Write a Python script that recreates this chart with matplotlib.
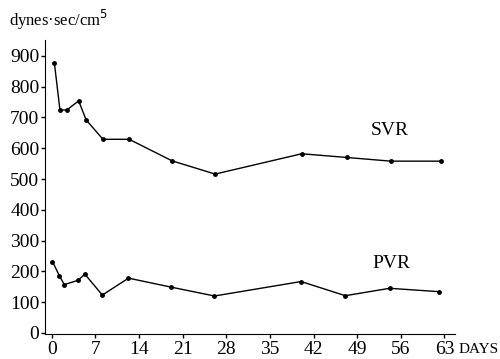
import matplotlib.pyplot as plt

days_svr = [0.4, 1.3, 2.4, 4.3, 5.5, 8.2, 12.4, 19.3, 26.2, 40.1, 47.3, 54.4, 62.4]
svr = [878, 724, 724, 754, 692, 629, 629, 559, 516, 582, 570, 558, 558]

days_pvr = [0.1, 1.2, 2.0, 4.2, 5.3, 8.1, 12.3, 19.1, 26.1, 40.0, 47.1, 54.2, 62.2]
pvr = [232, 186, 157, 171, 191, 123, 178, 149, 120, 167, 121, 145, 134]

xticks = [0, 7, 14, 21, 28, 35, 42, 49, 56, 63]
yticks = [0, 100, 200, 300, 400, 500, 600, 700, 800, 900]

plt.rcParams['font.family'] = ['Liberation Serif', 'DejaVu Serif']

fig = plt.figure(figsize=(5, 3.59), dpi=100)
ax = fig.add_axes([0.09, 0.07, 0.82, 0.819])

ax.plot(days_svr, svr, color='black', lw=1, marker='o', ms=2.5)
ax.plot(days_pvr, pvr, color='black', lw=1, marker='o', ms=2.5)

ax.set_xlim(-1.1, 64.7)
ax.set_ylim(-3, 952)
ax.set_xticks(xticks)
ax.set_yticks(yticks)
ax.tick_params(labelsize=14, length=3, width=1, pad=1)
ax.tick_params(axis='x', pad=2)
ax.spines['top'].set_visible(False)
ax.spines['right'].set_visible(False)

fig.text(0.018, 0.945, 'dynes·sec/cm$^5$', fontsize=12, ha='left', va='center')
ax.text(51.2, 657, 'SVR', fontsize=14, ha='left', va='center')
ax.text(51.5, 224, 'PVR', fontsize=14, ha='left', va='center')
fig.text(0.917, 0.026, 'DAYS', fontsize=11, ha='left', va='center')

plt.savefig('out.png', dpi=100)
